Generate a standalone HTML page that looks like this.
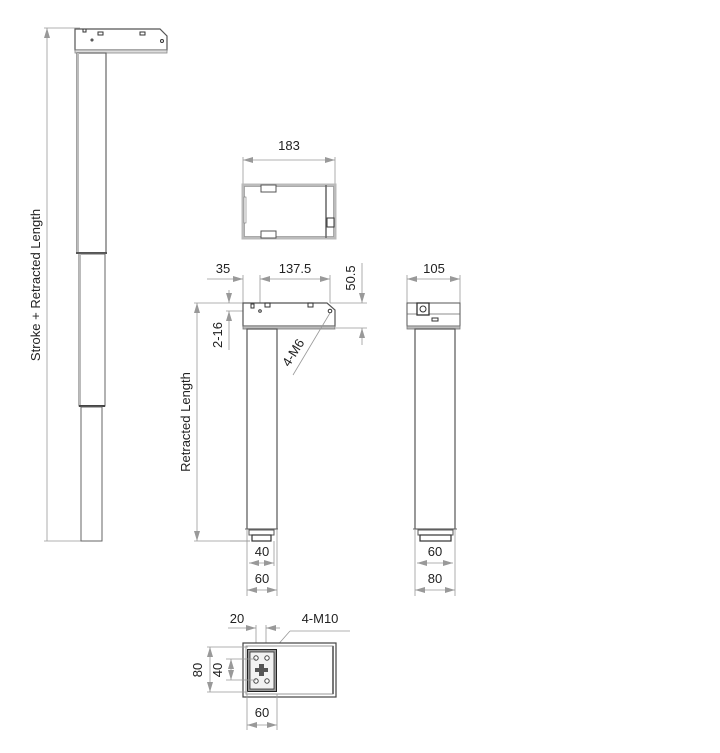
<!DOCTYPE html>
<html><head><style>
html,body{margin:0;padding:0;background:#fff;width:720px;height:753px;overflow:hidden}
svg{display:block}
text{font-family:"Liberation Sans",sans-serif;font-size:13px;fill:#222}
.d{stroke:#999;stroke-width:0.8;fill:none}
.o{stroke:#555;stroke-width:1.2;fill:#fff}
.k{stroke:#333;stroke-width:1;fill:none}
</style></head><body>
<svg width="720" height="753" viewBox="0 0 720 753" xmlns="http://www.w3.org/2000/svg">
<defs>
<marker id="a" viewBox="0 0 10 6" refX="10" refY="3" markerWidth="10" markerHeight="6" orient="auto-start-reverse" markerUnits="userSpaceOnUse"><path d="M0,0 L10,3 L0,6 z" fill="#999"/></marker>
</defs>

<!-- LEFT LEG -->
<line class="d" x1="47" y1="28" x2="47" y2="541" marker-start="url(#a)"/>
<line class="d" x1="44" y1="28" x2="80" y2="28"/>
<line class="d" x1="44" y1="541" x2="82" y2="541"/>
<text transform="translate(40,285) rotate(-90)" text-anchor="middle">Stroke + Retracted Length</text>
<path class="o" d="M75,29 H160 L167,36 V50 H75 Z"/>
<rect x="75" y="50" width="92" height="3" fill="#ddd" stroke="#888" stroke-width="0.8"/>
<rect x="98" y="32" width="5" height="3" class="k" stroke-width="0.7"/>
<rect x="140" y="32" width="5" height="3" class="k" stroke-width="0.7"/>
<circle cx="162" cy="41" r="1.5" class="k"/>
<circle cx="92" cy="40" r="1" class="k" stroke-width="0.6"/>
<path d="M83,29 v3 h3 v-3" class="k" stroke-width="0.8"/>
<rect x="77" y="53" width="29" height="200" fill="#fff" stroke="#666" stroke-width="1.2"/>
<line x1="78" y1="53" x2="78" y2="253" stroke="#bbb" stroke-width="2"/>
<line x1="76" y1="253" x2="107" y2="253" stroke="#555" stroke-width="2"/>
<rect x="79" y="254" width="26" height="152" fill="#fff" stroke="#666" stroke-width="1"/>
<line x1="80" y1="254" x2="80" y2="406" stroke="#bbb" stroke-width="2"/>
<line x1="79" y1="406" x2="105" y2="406" stroke="#444" stroke-width="2"/>
<rect x="81" y="407" width="21" height="134" fill="#fff" stroke="#666" stroke-width="1"/>

<!-- TOP VIEW -->
<line class="d" x1="243" y1="160" x2="335" y2="160" marker-start="url(#a)" marker-end="url(#a)"/>
<line class="d" x1="243" y1="157" x2="243" y2="185"/>
<line class="d" x1="335" y1="157" x2="335" y2="185"/>
<text x="289" y="150" text-anchor="middle">183</text>
<rect x="243" y="185" width="92" height="53" fill="#fff" stroke="#bbb" stroke-width="3"/>
<rect x="244.5" y="186.5" width="89" height="50" fill="none" stroke="#888" stroke-width="0.6"/>
<rect x="261" y="185" width="15" height="7" fill="#fff" stroke="#555"/>
<rect x="261" y="231" width="15" height="7" fill="#fff" stroke="#555"/>
<rect x="244" y="197" width="2" height="26" fill="#fff" stroke="#777" stroke-width="0.6"/>
<line x1="326" y1="185" x2="326" y2="238" stroke="#666" stroke-width="1.5"/>
<rect x="327" y="218" width="7" height="9" fill="#fff" stroke="#333" stroke-width="1"/>

<!-- FRONT VIEW -->
<line class="d" x1="243" y1="275" x2="243" y2="303"/>
<line class="d" x1="330" y1="275" x2="330" y2="303"/>
<line class="d" x1="260" y1="275" x2="260" y2="310"/>
<line class="d" x1="207" y1="279" x2="243" y2="279" marker-end="url(#a)"/>
<line class="d" x1="260" y1="279" x2="330" y2="279" marker-start="url(#a)" marker-end="url(#a)"/>
<text x="223" y="273" text-anchor="middle">35</text>
<text x="295" y="273" text-anchor="middle">137.5</text>
<line class="d" x1="362" y1="263" x2="362" y2="303" marker-end="url(#a)"/>
<line class="d" x1="362" y1="328" x2="362" y2="345" marker-start="url(#a)"/>
<line class="d" x1="330" y1="303" x2="367" y2="303"/>
<line class="d" x1="336" y1="328" x2="367" y2="328"/>
<text transform="translate(355,278) rotate(-90)" text-anchor="middle">50.5</text>
<line class="d" x1="229" y1="290" x2="229" y2="303" marker-end="url(#a)"/>
<line class="d" x1="229" y1="311" x2="229" y2="350" marker-start="url(#a)"/>
<line class="d" x1="226" y1="311" x2="262" y2="311"/>
<text transform="translate(222,335) rotate(-90)" text-anchor="middle">2-16</text>
<line class="d" x1="197" y1="303" x2="197" y2="541" marker-start="url(#a)" marker-end="url(#a)"/>
<line class="d" x1="194" y1="303" x2="243" y2="303"/>
<line class="d" x1="194" y1="541" x2="250" y2="541"/>
<text transform="translate(190,422) rotate(-90)" text-anchor="middle">Retracted Length</text>
<path class="o" d="M243,303 H327 L335,310 V326 H243 Z"/>
<rect x="243" y="326" width="92" height="3" fill="#bbb" stroke="#777" stroke-width="0.8"/>
<circle cx="260" cy="311" r="1.3" class="k"/>
<rect x="251" y="304" width="3" height="4" class="k" stroke-width="0.7"/>
<rect x="265" y="303" width="5" height="4" class="k" stroke-width="0.7"/>
<rect x="308" y="303" width="5" height="4" class="k" stroke-width="0.7"/>
<circle cx="330" cy="311" r="1.8" class="k"/>
<line class="d" x1="330" y1="313" x2="293" y2="375"/>
<text transform="translate(297,355) rotate(-58)" text-anchor="middle">4-M6</text>
<rect x="247" y="329" width="30" height="200" fill="#fff" stroke="#555" stroke-width="1.2"/>
<line x1="245" y1="529" x2="278" y2="529" stroke="#666" stroke-width="1"/>
<rect x="249" y="530" width="25" height="5" fill="#fff" stroke="#555" stroke-width="1"/>
<rect x="252" y="535" width="19" height="6" fill="#fff" stroke="#333" stroke-width="1.2"/>
<line class="d" x1="247" y1="529" x2="247" y2="596"/>
<line class="d" x1="277" y1="529" x2="277" y2="596"/>
<line class="d" x1="274" y1="541" x2="274" y2="566"/>
<line class="d" x1="230" y1="541" x2="250" y2="541"/>
<line class="d" x1="249" y1="563" x2="274" y2="563" marker-start="url(#a)" marker-end="url(#a)"/>
<line class="d" x1="247" y1="590" x2="277" y2="590" marker-start="url(#a)" marker-end="url(#a)"/>
<text x="262" y="556" text-anchor="middle">40</text>
<text x="262" y="583" text-anchor="middle">60</text>

<!-- SIDE VIEW -->
<line class="d" x1="407" y1="279" x2="460" y2="279" marker-start="url(#a)" marker-end="url(#a)"/>
<line class="d" x1="407" y1="275" x2="407" y2="303"/>
<line class="d" x1="460" y1="275" x2="460" y2="303"/>
<text x="434" y="273" text-anchor="middle">105</text>
<rect x="407" y="303" width="53" height="23" fill="#fff" stroke="#555" stroke-width="1"/>
<line x1="407" y1="314" x2="460" y2="314" stroke="#666" stroke-width="0.8"/>
<rect x="407" y="326" width="53" height="3" fill="#bbb" stroke="#777" stroke-width="0.8"/>
<rect x="417" y="303" width="12" height="12" fill="#fff" stroke="#333" stroke-width="1.3"/>
<circle cx="423" cy="309" r="3" class="k"/>
<rect x="432" y="318" width="6" height="3" class="k" stroke-width="0.7"/>
<rect x="415" y="329" width="40" height="200" fill="#fff" stroke="#555" stroke-width="1.2"/>
<line x1="413" y1="529" x2="457" y2="529" stroke="#666" stroke-width="1"/>
<rect x="418" y="530" width="35" height="5" fill="#fff" stroke="#555" stroke-width="1"/>
<rect x="420" y="535" width="31" height="6" fill="#fff" stroke="#333" stroke-width="1.2"/>
<line class="d" x1="415" y1="529" x2="415" y2="596"/>
<line class="d" x1="455" y1="529" x2="455" y2="596"/>
<line class="d" x1="417" y1="563" x2="453" y2="563" marker-start="url(#a)" marker-end="url(#a)"/>
<line class="d" x1="415" y1="590" x2="455" y2="590" marker-start="url(#a)" marker-end="url(#a)"/>
<text x="435" y="556" text-anchor="middle">60</text>
<text x="435" y="583" text-anchor="middle">80</text>

<!-- BOTTOM VIEW -->
<text x="237" y="623" text-anchor="middle">20</text>
<text x="320" y="623" text-anchor="middle">4-M10</text>
<line class="d" x1="228" y1="628" x2="256" y2="628" marker-end="url(#a)"/>
<line class="d" x1="266" y1="628" x2="280" y2="628" marker-start="url(#a)"/>
<line class="d" x1="256" y1="625" x2="256" y2="660"/>
<line class="d" x1="266" y1="625" x2="266" y2="660"/>
<line class="d" x1="290" y1="631" x2="350" y2="631"/>
<line class="d" x1="290" y1="631" x2="268" y2="656"/>
<rect x="243" y="643" width="93" height="54" fill="#fff" stroke="#444" stroke-width="1.2"/>
<rect x="246" y="646" width="87" height="48" fill="none" stroke="#999" stroke-width="1"/>
<line x1="333" y1="646" x2="333" y2="694" stroke="#777" stroke-width="2"/>
<rect x="247.5" y="649.5" width="29" height="42" fill="#999" stroke="#222" stroke-width="1"/>
<rect x="250" y="652" width="24" height="37" fill="#f2f2f2" stroke="#333" stroke-width="0.8"/>
<circle cx="256" cy="658" r="2.2" fill="#fff" stroke="#444"/>
<circle cx="267" cy="658" r="2.2" fill="#fff" stroke="#444"/>
<circle cx="256" cy="681" r="2.2" fill="#fff" stroke="#444"/>
<circle cx="267" cy="681" r="2.2" fill="#fff" stroke="#444"/>
<rect x="259" y="664" width="5" height="12" fill="#555"/>
<rect x="255" y="668" width="13" height="4" fill="#555"/>
<line class="d" x1="207" y1="647" x2="248" y2="647"/>
<line class="d" x1="207" y1="692" x2="248" y2="692"/>
<line class="d" x1="210" y1="647" x2="210" y2="692" marker-start="url(#a)" marker-end="url(#a)"/>
<text transform="translate(202,670) rotate(-90)" text-anchor="middle">80</text>
<line class="d" x1="226" y1="659" x2="256" y2="659"/>
<line class="d" x1="226" y1="680" x2="256" y2="680"/>
<line class="d" x1="231" y1="659" x2="231" y2="680" marker-start="url(#a)" marker-end="url(#a)"/>
<text transform="translate(222,670) rotate(-90)" text-anchor="middle">40</text>
<line class="d" x1="247" y1="694" x2="247" y2="730"/>
<line class="d" x1="277" y1="694" x2="277" y2="730"/>
<line class="d" x1="247" y1="725" x2="277" y2="725" marker-start="url(#a)" marker-end="url(#a)"/>
<text x="262" y="717" text-anchor="middle">60</text>
</svg>
</body></html>
